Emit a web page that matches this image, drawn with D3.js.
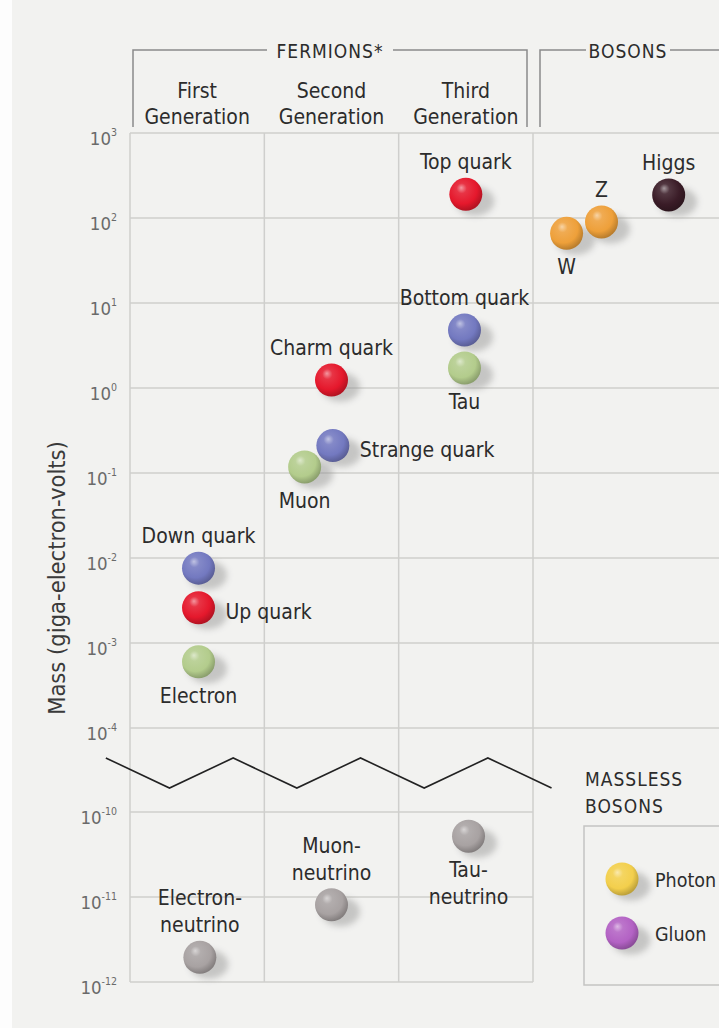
<!DOCTYPE html>
<html><head><meta charset="utf-8">
<script src="https://cdn.jsdelivr.net/npm/d3@7"></script>
<style>
html,body{margin:0;padding:0;background:#fff;}
svg{display:block;}
text{font-family:"DejaVu Sans Condensed","DejaVu Sans",sans-serif;}
</style></head><body>
<svg id="chart" width="719" height="1028"></svg>
<script>
// ---------- DATA ----------
const generations = [["First","Generation"],["Second","Generation"],["Third","Generation"]];
const groupLabels = ["FERMIONS*","BOSONS"];
const tickExponents = [3,2,1,0,-1,-2,-3,-4,-10,-11,-12];
const axisTitle = "Mass (giga-electron-volts)";

const particleNames = ["Top quark","Bottom quark","Tau","Charm quark","Strange quark","Muon",
  "Down quark","Up quark","Electron","Tau-\nneutrino","Muon-\nneutrino","Electron-\nneutrino",
  "W","Z","Higgs"];
// masses in GeV
const particleMasses = [190, 4.8, 1.72, 1.24, 0.21, 0.118,
  0.0076, 0.0026, 0.0006, 5.2e-11, 8.1e-12, 1.95e-12,
  66, 90, 187];
// horizontal position in column units (0-1 first generation, 1-2 second, 2-3 third, 3+ bosons)
const particleColumns = [2.50, 2.49, 2.49, 1.50, 1.51, 1.30,
  0.51, 0.51, 0.51, 2.52, 1.50, 0.52,
  3.25, 3.51, 4.01];
const particleKinds = ["upq","downq","lepton","upq","downq","lepton",
  "downq","upq","lepton","nu","nu","nu",
  "weak","weak","higgs"];
const labelPlacement = ["above","above","below","above","right","below",
  "above","right","below","below","above","above",
  "below","above","above"];
const masslessBosons = ["Photon","Gluon"];
const masslessKinds = ["photon","gluon"];
const masslessTitle = ["MASSLESS","BOSONS"];

// ---------- STYLE ----------
const kindColor = {
  upq:"#e5182c", downq:"#7379c0", lepton:"#b3cc8c", nu:"#a8a2a2",
  weak:"#eea03a", higgs:"#3a1c27", photon:"#f3cf4c", gluon:"#b362c4"
};
const W = 719, H = 1028;
const svg = d3.select("#chart");

// scales: broken log axis as polylinear on log10
const y = d3.scaleLinear().domain([3,-4,-10,-12]).range([133,728,812,982]);
const x = d3.scaleLinear().domain([0,3]).range([130,533]);

const defs = svg.append("defs");
Object.entries(kindColor).forEach(([k,c])=>{
  const base = d3.color(c);
  const g = defs.append("radialGradient").attr("id","g-"+k)
    .attr("cx","42%").attr("cy","38%").attr("r","62%").attr("fx","36%").attr("fy","30%");
  g.append("stop").attr("offset","0%").attr("stop-color", d3.interpolateRgb(c,"#fff")(0.55));
  g.append("stop").attr("offset","25%").attr("stop-color", d3.interpolateRgb(c,"#fff")(0.12));
  g.append("stop").attr("offset","70%").attr("stop-color", c);
  g.append("stop").attr("offset","100%").attr("stop-color", base.darker(0.7).formatHex());
});
const f = defs.append("filter").attr("id","blur").attr("x","-50%").attr("y","-50%").attr("width","200%").attr("height","200%");
f.append("feGaussianBlur").attr("stdDeviation",3.2);

// background
svg.append("rect").attr("width",W).attr("height",H).attr("fill","#f2f2f0");
svg.append("rect").attr("width",12).attr("height",H).attr("fill","#fdfdfd");

const grid = svg.append("g").attr("stroke","#cfcfcd").attr("stroke-width",1.5);
// horizontal gridlines
tickExponents.forEach(t=>{
  grid.append("line").attr("x1",x(0)).attr("x2", t>=-4 ? W : x(3))
    .attr("y1",y(t)).attr("y2",y(t));
});
// vertical gridlines
[0,1,2,3].forEach(c=>{
  grid.append("line").attr("x1",x(c)).attr("x2",x(c)).attr("y1",y(3)).attr("y2",y(-12));
});

// axis break zigzag
const zz = d3.range(8).map(i=>[x(-0.18 + i*0.474), y(i%2===0 ? -6.14 : -8.29)]);
svg.append("path").attr("d", d3.line()(zz)).attr("fill","none")
  .attr("stroke","#222").attr("stroke-width",1.6).attr("stroke-linejoin","miter");

// tick labels
const ticks = svg.append("g").attr("fill","#6a6a6a");
tickExponents.forEach(t=>{
  const tx = ticks.append("text").attr("x",117).attr("y",y(t)+12).attr("text-anchor","end");
  tx.append("tspan").attr("font-size",18.5).text("10");
  tx.append("tspan").attr("font-size",10.5).attr("dy",-9).text(t<0 ? "-"+(-t) : String(t));
});

// axis title
svg.append("text").attr("transform","translate(65,578) rotate(-90)")
  .attr("text-anchor","middle").attr("font-size",23.5).attr("fill","#3a3a3a").text(axisTitle);

// header brackets
const hdr = svg.append("g");
const bracketStroke = "#8a8a8a";
// Fermions
const fx1 = x(0)+3, fx2 = x(3)-6, fxc = (fx1+fx2)/2;
hdr.append("path").attr("d",`M${fx1},127V50H${fxc-63}M${fxc+63},50H${fx2}V127`)
  .attr("fill","none").attr("stroke",bracketStroke).attr("stroke-width",1.5);
hdr.append("text").attr("x",fxc).attr("y",58).attr("text-anchor","middle")
  .attr("font-size",19).attr("letter-spacing",1).attr("fill","#2c2c2c").text(groupLabels[0]);
// Bosons
const bx1 = x(3)+7;
hdr.append("path").attr("d",`M${bx1},127V50H${bx1+46}M${bx1+130},50H${W}`)
  .attr("fill","none").attr("stroke",bracketStroke).attr("stroke-width",1.5);
hdr.append("text").attr("x",bx1+88).attr("y",58).attr("text-anchor","middle")
  .attr("font-size",19).attr("letter-spacing",1).attr("fill","#2c2c2c").text(groupLabels[1]);
// generation labels
generations.forEach((g,i)=>{
  const t = hdr.append("text").attr("text-anchor","middle").attr("font-size",21).attr("fill","#2c2c2c");
  g.forEach((line,j)=>t.append("tspan").attr("x",x(i+0.5)).attr("y",98+j*26).text(line));
});

// balls
function ball(parent, cx, cy, kind, r){
  parent.append("ellipse").attr("cx",cx+9).attr("cy",cy+7).attr("rx",r+3).attr("ry",r-2)
    .attr("fill","#8f8f8f").attr("opacity",0.45).attr("filter","url(#blur)");
  parent.append("circle").attr("cx",cx).attr("cy",cy).attr("r",r)
    .attr("fill",`url(#g-${kind})`);
}

const particles = particleNames.map((n,i)=>({name:n, mass:particleMasses[i], col:particleColumns[i],
  kind:particleKinds[i], place:labelPlacement[i]}));
const marks = svg.append("g");
const labels = svg.append("g").attr("font-size",21).attr("fill","#2c2c2c");
const LINE = 27, R = 16.5;
particles.forEach(p=>{
  const cx = x(p.col), cy = y(Math.log10(p.mass));
  ball(marks, cx, cy, p.kind, R);
  const lines = p.name.split("\n");
  const n = lines.length;
  const t = labels.append("text");
  if (p.place === "right"){
    t.attr("text-anchor","start");
    lines.forEach((l,j)=>t.append("tspan").attr("x",cx+27).attr("y",cy+11+j*LINE).text(l));
  } else if (p.place === "above"){
    t.attr("text-anchor","middle");
    lines.forEach((l,j)=>t.append("tspan").attr("x",cx).attr("y",cy-25-(n-1-j)*LINE).text(l));
  } else {
    t.attr("text-anchor","middle");
    lines.forEach((l,j)=>t.append("tspan").attr("x",cx).attr("y",cy+41+j*LINE).text(l));
  }
});

// massless bosons panel
const mb = svg.append("g");
masslessTitle.forEach((l,j)=>mb.append("text").attr("x",585).attr("y",786+j*27)
  .attr("font-size",19).attr("letter-spacing",1).attr("fill","#2c2c2c").text(l));
mb.append("rect").attr("x",584).attr("y",826).attr("width",W).attr("height",159)
  .attr("fill","none").attr("stroke","#c4c4c2").attr("stroke-width",1.5);
masslessBosons.forEach((n,i)=>{
  const cy = 879 + i*54;
  ball(mb, 622, cy, masslessKinds[i], R);
  mb.append("text").attr("x",655).attr("y",cy+8).attr("font-size",19.5).attr("fill","#2c2c2c").text(n);
});
</script>
</body></html>
